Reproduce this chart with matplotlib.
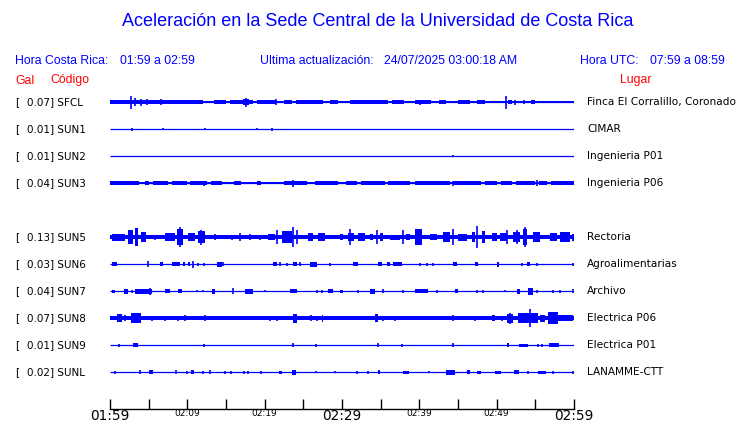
import matplotlib
matplotlib.use("Agg")
import matplotlib.pyplot as plt

# station codes, scale (Gal), places
codes = ["SFCL", "SUN1", "SUN2", "SUN3", "SUN5", "SUN6", "SUN7", "SUN8", "SUN9", "SUNL"]
scales = ["0.07", "0.01", "0.01", "0.04", "0.13", "0.03", "0.04", "0.07", "0.01", "0.02"]
places = ["Finca El Corralillo, Coronado", "CIMAR", "Ingenieria P01", "Ingenieria P06",
          "Rectoria", "Agroalimentarias", "Archivo", "Electrica P06", "Electrica P01", "LANAMME-CTT"]
rows = [0, 1, 2, 3, 5, 6, 7, 8, 9, 10]   # SUN4 missing

# steady background level of each trace (same units as bursts)
floor = [0.6, 0, 0, 0.6, 2.2, 0, 0, 2.2, 0, 0]

# bursts: (start min, end min, half amplitude)
sfcl = [(0.0, 12.0, 2.0), (13.5, 15.0, 1.7), (15.5, 18.5, 1.8), (19.0, 21.5, 1.8), (22.5, 23.5, 1.6),
        (24.0, 27.5, 1.8), (28.5, 29.5, 1.6), (31.0, 36.0, 1.8), (36.5, 38.0, 1.6), (39.5, 41.5, 1.8),
        (42.5, 43.5, 1.6), (45.0, 46.5, 1.6), (47.5, 48.5, 1.6), (51.5, 52.0, 1.6), (54.5, 55.0, 1.6),
        (2.7, 2.7, 6.5), (3.2, 3.2, 4.0), (4.0, 4.0, 3.5), (4.8, 4.8, 3.0), (6.6, 6.6, 3.0),
        (17.2, 18.0, 3.0), (17.6, 17.6, 4.5), (21.5, 21.5, 3.0), (33.8, 33.8, 1.8), (40.1, 40.1, 2.5),
        (51.2, 51.2, 6.5), (52.4, 52.4, 2.5), (53.5, 53.5, 2.0)]
sun1 = [(2.9, 2.9, 1.5), (6.8, 6.8, 1.2), (12.3, 12.3, 1.0), (19.0, 19.0, 1.0), (21.0, 21.0, 1.5)]
sun2 = [(44.4, 44.4, 1.0)]
sun3 = [(0, 3.7, 2.0), (4.5, 5.0, 1.6), (5.5, 7.5, 1.6), (8.0, 10.0, 1.8), (10.3, 12.5, 1.9),
        (13.0, 14.5, 1.6), (16.0, 17.0, 1.6), (19.0, 19.5, 1.6), (22.5, 25.5, 2.0), (26.5, 29.5, 1.8),
        (30.5, 32.0, 1.6), (32.5, 35.5, 1.9), (36.0, 38.8, 1.9), (39.5, 44.0, 1.8), (44.5, 48.0, 1.9),
        (48.5, 50.0, 1.8), (50.5, 52.0, 1.8), (52.5, 55.0, 1.9), (55.5, 56.5, 1.8), (57.0, 60.0, 2.2),
        (12.2, 12.2, 2.5), (23.3, 24.0, 2.4), (23.7, 23.7, 3.5), (44.4, 44.4, 2.5), (55.2, 55.2, 3.0)]
sun5 = [(0.3, 2.0, 3.5), (2.3, 3.0, 7.0), (3.2, 3.6, 9.0), (4.0, 4.7, 5.0), (5.8, 5.8, 2.5),
        (7.1, 8.4, 4.0), (8.7, 9.4, 8.0), (9.0, 9.0, 10.0), (10.1, 11.0, 4.0), (11.4, 12.3, 6.0),
        (11.8, 11.8, 7.5), (13.6, 13.6, 3.0), (15.8, 15.8, 2.5), (16.8, 16.8, 4.0), (18.1, 18.1, 3.0),
        (19.4, 19.4, 2.5), (20.4, 21.3, 3.0), (21.6, 21.6, 7.0), (22.2, 23.5, 6.0), (23.7, 23.7, 10.0),
        (24.2, 24.2, 7.0), (25.6, 26.3, 4.0), (26.9, 27.8, 4.0), (29.7, 30.1, 3.0), (31.0, 31.0, 8.0),
        (30.8, 31.5, 4.0), (32.1, 33.0, 4.0), (33.6, 34.0, 3.0), (34.5, 34.5, 7.0), (34.9, 35.3, 4.0),
        (36.2, 37.5, 2.5), (37.9, 37.9, 7.0), (38.3, 38.8, 3.0), (39.4, 40.3, 8.0), (41.4, 42.3, 3.0),
        (43.0, 44.0, 5.0), (44.4, 44.4, 8.0), (45.0, 46.2, 3.5), (46.8, 47.2, 5.0), (47.5, 47.5, 11.0),
        (48.1, 48.5, 6.0), (49.4, 50.0, 4.0), (50.4, 51.3, 4.0), (51.3, 51.3, 7.0), (52.1, 53.0, 5.0),
        (52.6, 52.6, 7.0), (53.4, 53.9, 8.0), (53.7, 53.7, 10.0), (54.7, 55.6, 5.0), (56.9, 57.8, 4.0),
        (58.2, 59.5, 5.0), (59.7, 60.0, 3.5)]
sun6 = [(0.2, 0.9, 2.0), (4.9, 4.9, 3.0), (6.5, 6.9, 2.0), (8.0, 9.0, 2.0), (9.4, 9.7, 2.0),
        (10.1, 10.3, 2.0), (10.7, 10.7, 3.5), (11.4, 11.4, 1.5), (12.2, 12.2, 1.5), (13.8, 14.5, 2.5),
        (14.6, 14.6, 2.0), (21.1, 21.6, 2.0), (22.0, 22.0, 2.0), (22.9, 22.9, 1.5), (23.7, 24.2, 2.0),
        (24.6, 24.6, 2.0), (25.9, 26.8, 2.5), (28.4, 28.4, 1.5), (31.4, 32.1, 2.0), (34.7, 35.2, 2.0),
        (35.8, 36.2, 2.0), (36.6, 37.8, 2.0), (40.1, 40.1, 1.5), (41.0, 41.0, 1.5), (41.8, 41.8, 1.5),
        (44.4, 44.9, 2.0), (47.2, 47.6, 2.0), (50.0, 50.3, 2.5), (53.3, 53.3, 1.5), (53.9, 54.3, 2.0),
        (55.2, 55.2, 1.5), (59.9, 59.9, 1.5)]
sun7 = [(0.2, 0.6, 1.5), (1.8, 2.3, 2.5), (2.8, 2.8, 1.5), (3.2, 5.4, 2.5), (5.2, 5.2, 3.5),
        (7.1, 7.8, 2.0), (8.8, 9.3, 2.0), (11.2, 11.2, 1.0), (12.0, 12.0, 1.0), (13.2, 13.6, 2.5),
        (15.9, 15.9, 3.0), (17.5, 18.5, 2.5), (20.0, 20.0, 1.0), (23.3, 24.2, 2.0), (26.8, 26.8, 1.5),
        (27.4, 27.4, 1.5), (28.2, 28.8, 2.0), (29.7, 30.1, 1.5), (32.1, 32.1, 1.5), (33.6, 34.3, 2.5),
        (35.3, 35.3, 2.0), (37.9, 37.9, 1.5), (39.4, 41.1, 2.0), (42.3, 42.3, 1.5), (44.6, 45.0, 2.0),
        (47.4, 47.4, 1.5), (48.2, 48.2, 1.5), (51.1, 51.1, 1.0), (52.6, 53.0, 2.5), (54.1, 54.7, 3.5),
        (55.2, 55.2, 1.5), (57.3, 57.3, 1.5), (58.2, 58.2, 1.5), (59.9, 59.9, 2.0)]
sun8 = [(0.9, 1.5, 4.0), (1.9, 1.9, 3.0), (2.7, 4.0, 5.0), (5.4, 5.4, 2.5), (7.1, 7.1, 2.5),
        (8.8, 8.8, 2.5), (9.7, 9.7, 3.0), (12.3, 12.3, 3.0), (20.7, 20.7, 2.5), (21.6, 21.6, 2.5),
        (23.7, 24.2, 4.5), (26.0, 26.0, 3.0), (26.8, 26.8, 2.5), (27.4, 27.5, 3.5), (34.3, 34.7, 4.0),
        (35.3, 35.3, 2.5), (36.9, 36.9, 2.5), (41.0, 41.0, 2.0), (42.0, 42.0, 2.0), (44.4, 44.4, 3.0),
        (47.2, 47.2, 2.5), (48.5, 48.5, 2.0), (49.4, 49.8, 3.0), (50.7, 50.7, 2.5), (51.3, 52.1, 4.5),
        (51.7, 51.7, 5.5), (52.8, 55.3, 5.0), (54.3, 54.3, 9.0), (55.6, 56.3, 3.5), (56.6, 57.9, 6.0),
        (57.9, 59.9, 3.0)]
sun9 = [(1.2, 1.2, 1.5), (3.0, 3.6, 2.0), (12.1, 12.1, 1.5), (23.7, 23.7, 2.0), (26.6, 26.6, 1.5),
        (34.6, 34.6, 2.0), (37.8, 37.8, 1.5), (44.3, 44.3, 2.0), (51.3, 51.6, 2.0), (52.9, 54.0, 1.5),
        (55.3, 55.3, 1.5), (55.9, 55.9, 1.5), (56.8, 58.0, 2.0)]
sunl = [(0.7, 0.7, 1.5), (3.9, 3.9, 2.0), (5.1, 5.5, 2.0), (8.5, 8.5, 2.0), (9.9, 9.9, 1.5),
        (10.5, 10.9, 2.0), (12.0, 12.0, 1.5), (12.9, 12.9, 2.0), (14.9, 14.9, 1.5), (15.7, 15.7, 1.5),
        (17.3, 17.3, 1.5), (17.9, 17.9, 1.5), (19.5, 19.5, 1.5), (21.9, 22.3, 1.5), (23.5, 24.1, 2.5),
        (26.6, 26.6, 1.0), (29.1, 29.1, 1.0), (32.0, 32.0, 1.5), (33.4, 33.4, 1.5), (34.6, 34.9, 2.0),
        (37.9, 38.7, 1.5), (41.3, 41.3, 1.0), (43.4, 44.6, 2.5), (46.2, 46.6, 2.0), (47.4, 48.0, 1.5),
        (49.8, 50.5, 1.5), (52.3, 52.9, 2.0), (54.0, 54.0, 1.5), (55.3, 56.4, 1.5), (57.3, 57.3, 1.5),
        (59.9, 59.9, 1.5)]
bursts = [sfcl, sun1, sun2, sun3, sun5, sun6, sun7, sun8, sun9, sunl]

tick_min = list(range(0, 61, 5))
tick_lab = ["01:59", "", "02:09", "", "02:19", "", "02:29", "", "02:39", "", "02:49", "", "02:59"]

blue = "#0000ff"
W, H = 740, 423
fig = plt.figure(figsize=(W / 100, H / 100), dpi=100)
plt.rcParams["font.family"] = ["Liberation Sans", "DejaVu Sans"]

# axes placed so trace rows fall at the same pixel rows as the original
ax = fig.add_axes([110 / W, 1 - 409 / H, 464 / W, (409 - 88) / H])
row_px = 27.0
ax.set_xlim(0, 60)
ax.set_ylim((409 - 102) / row_px, (88 - 102) / row_px)
amp = 1 / row_px  # one unit of amplitude = one pixel

for r, fl, bl in zip(rows, floor, bursts):
    ax.plot([0, 60], [r, r], color=blue, lw=0.9, solid_capstyle="butt")
    if fl > 0:
        ax.fill_between([0, 60], r - fl * amp, r + fl * amp, color=blue, lw=0)
    for s, e, a in bl:
        if e - s < 0.1:
            ax.vlines(s, r - a * amp, r + a * amp, color=blue, lw=1.2)
        else:
            ax.fill_between([s, e], r - a * amp, r + a * amp, color=blue, lw=0)

for side in ["top", "left", "right"]:
    ax.spines[side].set_visible(False)
ax.spines["bottom"].set_linewidth(1.0)
ax.set_yticks([])
ax.set_xticks(tick_min)
ax.set_xticklabels(tick_lab, family="DejaVu Sans")
ax.tick_params(axis="x", direction="in", length=7, width=1, pad=0)
for i, t in enumerate(ax.get_xticklabels()):
    if tick_min[i] in (0, 30, 60):
        t.set_fontsize(9.8)
    else:
        t.set_fontsize(6.5)

# station labels
for r, sc, cd, pl in zip(rows, scales, codes, places):
    y = 1 - (102 + row_px * r) / H
    fig.text(15 / W, y, "[", fontsize=7.5, family="DejaVu Sans", va="center")
    fig.text(27 / W, y, sc + "] " + cd, fontsize=7.5, family="DejaVu Sans", va="center")
    fig.text(587 / W, y, pl, fontsize=7.6, family="DejaVu Sans", va="center")

# header
fig.text(378 / W, 1 - 22 / H, "Aceleración en la Sede Central de la Universidad de Costa Rica",
         fontsize=13, color=blue, ha="center", va="center")
hy = 1 - 61 / H
fig.text(15 / W, hy, "Hora Costa Rica:", fontsize=8.8, color=blue, va="center")
fig.text(120 / W, hy, "01:59 a 02:59", fontsize=8.8, color=blue, va="center")
fig.text(260 / W, hy, "Ultima actualización:", fontsize=8.8, color=blue, va="center")
fig.text(384 / W, hy, "24/07/2025 03:00:18 AM", fontsize=8.8, color=blue, va="center")
fig.text(580 / W, hy, "Hora UTC:", fontsize=8.8, color=blue, va="center")
fig.text(725 / W, hy, "07:59 a 08:59", fontsize=8.8, color=blue, va="center", ha="right")
ly = 1 - 80.5 / H
fig.text(15 / W, ly, "Gal", fontsize=8.8, color="red", va="center")
fig.text(50 / W, ly, "Código", fontsize=8.8, color="red", va="center")
fig.text(620 / W, ly, "Lugar", fontsize=8.8, color="red", va="center")

fig.savefig("out.png", dpi=100)
